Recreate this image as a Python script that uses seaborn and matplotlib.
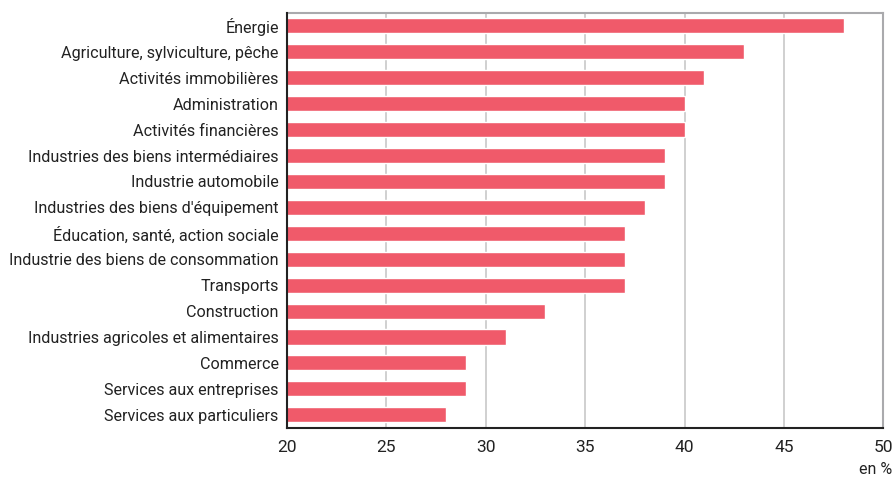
import matplotlib
matplotlib.use("Agg")
import matplotlib.pyplot as plt
import seaborn as sns
import pandas as pd

categories = [
    "Énergie",
    "Agriculture, sylviculture, pêche",
    "Activités immobilières",
    "Administration",
    "Activités financières",
    "Industries des biens intermédiaires",
    "Industrie automobile",
    "Industries des biens d'équipement",
    "Éducation, santé, action sociale",
    "Industrie des biens de consommation",
    "Transports",
    "Construction",
    "Industries agricoles et alimentaires",
    "Commerce",
    "Services aux entreprises",
    "Services aux particuliers",
]
values = [48, 43, 41, 40, 40, 39, 39, 38, 37, 37, 37, 33, 31, 29, 29, 28]
xticks = [20, 25, 30, 35, 40, 45, 50]

df = pd.DataFrame({"cat": categories, "val": values})

sns.set_style("white")
plt.rcParams["font.family"] = ["Roboto", "DejaVu Sans"]

fig, ax = plt.subplots(figsize=(8.94, 4.79), dpi=100)
fig.subplots_adjust(left=0.321, right=0.988, top=0.973, bottom=0.107)

sns.barplot(data=df, y="cat", x="val", color="#F05A6A", saturation=1,
            width=0.58, ax=ax, zorder=2)
ax.set_xlim(20, 50)
ax.set_xticks(xticks)
ax.set_xlabel("")
ax.set_ylabel("")
ax.xaxis.grid(True, color="#c8c8c8", linewidth=1.2, zorder=0)
ax.set_axisbelow(True)
ax.tick_params(axis="x", length=0, labelsize=12.5, colors="#222222", pad=9)
ax.tick_params(axis="y", length=0, labelsize=11.6, colors="#222222", pad=6)
for s in ["top", "right"]:
    ax.spines[s].set_color("#aaaaad")
    ax.spines[s].set_linewidth(1.5)
for s in ["left", "bottom"]:
    ax.spines[s].set_color("#222222")
    ax.spines[s].set_linewidth(1.5)
    ax.spines[s].set_zorder(5)

fig.text(0.998, 0.004, "en %", ha="right", va="bottom", fontsize=11.5, color="#222222")

fig.savefig("out.png", dpi=100)
